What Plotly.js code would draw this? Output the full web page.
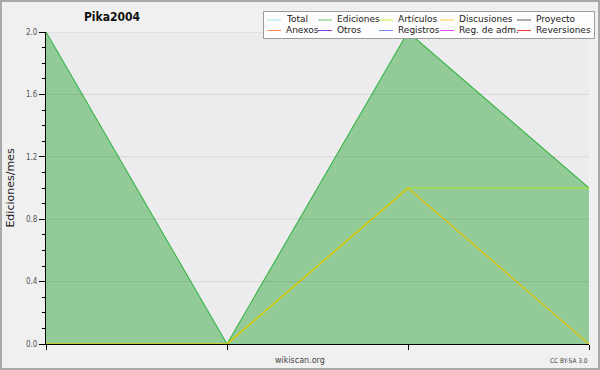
<!DOCTYPE html>
<html>
<head>
<meta charset="utf-8">
<script src="https://cdn.plot.ly/plotly-3.0.1.min.js"></script>
<style>html,body{margin:0;padding:0;background:#f0f0f0;}#chart{width:600px;height:370px;}</style>
</head>
<body>
<div id="chart"></div>
<script>
// ---- data ----
var months = [0, 1, 2, 3];
var total = [2, 0, 2, 1];
var ediciones = [2, 0, 2, 1];
var articulos = [0, 0, 1, 1];
var discusiones = [0, 0, 1, 0];
var proyecto = [0, 0, 0, 0];
var anexos = [0, 0, 0, 0];
var otros = [0, 0, 0, 0];
var registros = [0, 0, 0, 0];
var regAdm = [0, 0, 0, 0];
var reversiones = [0, 0, 0, 0];
var yTicks = [0, 0.4, 0.8, 1.2, 1.6, 2.0];

var legendNames = ['Total', 'Ediciones', 'Artículos', 'Discusiones', 'Proyecto',
                   'Anexos', 'Otros', 'Registros', 'Reg. de adm.', 'Reversiones'];
var legendColors = ['#a6e8ee', '#72c472', '#c4ee3c', '#ffcf3a', '#5c5c5c',
                    '#ff8a4a', '#8a3ee6', '#7c8cff', '#e04cf2', '#f63a3a'];

// ---- geometry helpers (layout only) ----
var W = 600, H = 370, ML = 46, MR = 11, MT = 32, MB = 26;
var PW = W - ML - MR, PH = H - MT - MB;
function px(x) { return (x - ML) / PW; }
function py(y) { return (H - MB - y) / PH; }

function line(name, y, color, width, extra) {
  var t = {x: months, y: y, name: name, type: 'scatter', mode: 'lines',
           line: {color: color, width: width}, showlegend: false, hoverinfo: 'skip'};
  if (extra) for (var k in extra) t[k] = extra[k];
  return t;
}

var traces = [
  line('Proyecto', proyecto, legendColors[4], 1),
  line('Anexos', anexos, legendColors[5], 1),
  line('Otros', otros, legendColors[6], 1),
  line('Registros', registros, legendColors[7], 1),
  line('Reg. de adm.', regAdm, legendColors[8], 1),
  line('Reversiones', reversiones, legendColors[9], 1),
  line('Total', total, legendColors[0], 1),
  line('Ediciones', ediciones, '#3cb644', 1.1, {fill: 'tozeroy', fillcolor: '#93cb98'}),
  line('Artículos', articulos, '#a6e81a', 1.2),
  line('Discusiones', discusiones, '#e8c400', 1.2)
];

var shapes = [];
// horizontal grid drawn above the area fill, as in the reference
for (var g = 1; g < yTicks.length; g++) {
  shapes.push({type: 'line', xref: 'paper', yref: 'y', x0: 0, x1: 1, y0: yTicks[g], y1: yTicks[g],
               line: {color: 'rgba(0,0,0,0.085)', width: 1}, layer: 'above'});
}
// outer frame and legend box
shapes.push({type: 'rect', xref: 'paper', yref: 'paper', x0: px(1), x1: px(599), y0: py(369), y1: py(1),
   line: {color: '#a9a9a9', width: 2}, fillcolor: 'rgba(0,0,0,0)', layer: 'above'});
shapes.push({type: 'rect', xref: 'paper', yref: 'paper', x0: px(263.5), x1: px(594.5), y0: py(38.5), y1: py(11.5),
   line: {color: '#9a9a9a', width: 1}, fillcolor: '#fdfdfd', layer: 'above'});

var annotations = [
  {text: 'wikiscan.org', xref: 'paper', yref: 'paper', x: px(300), y: py(360), xanchor: 'center', yanchor: 'middle',
   showarrow: false, font: {family: 'DejaVu Sans', size: 8, color: '#444'}},
  {text: 'CC BY-SA 3.0', xref: 'paper', yref: 'paper', x: px(590), y: py(361), xanchor: 'right', yanchor: 'middle',
   showarrow: false, font: {family: 'DejaVu Sans Condensed, DejaVu Sans', size: 6.5, color: '#444'}}
];
// legend entries built from the name/colour arrays
var colX = [267, 318, 379, 440, 517];
var rowY = [20, 30.5];
for (var i = 0; i < legendNames.length; i++) {
  var c = i % 5, r = Math.floor(i / 5);
  shapes.push({type: 'line', xref: 'paper', yref: 'paper', x0: px(colX[c]), x1: px(colX[c] + 14),
               y0: py(rowY[r]), y1: py(rowY[r]), line: {color: legendColors[i], width: 1}, layer: 'above'});
  annotations.push({text: legendNames[i], xref: 'paper', yref: 'paper', x: px(colX[c] + 17), y: py(rowY[r] - 0.5),
                    xanchor: 'left', yanchor: 'middle', showarrow: false,
                    font: {family: 'DejaVu Sans', size: 9, color: '#222'}});
}

var layout = {
  width: W, height: H,
  margin: {l: ML, r: MR, t: MT, b: MB, pad: 0, autoexpand: false},
  paper_bgcolor: '#f0f0f0',
  plot_bgcolor: '#ececee',
  showlegend: false,
  title: {text: 'Pika2004', x: 112 / W, xanchor: 'center', y: 1 - 17 / H, yanchor: 'middle',
          font: {family: 'DejaVu Sans Condensed, DejaVu Sans', size: 12, weight: 'bold', color: '#111'}},
  xaxis: {range: [0, 3], tickvals: months, showticklabels: false, ticks: 'outside', ticklen: 5,
          tickcolor: '#000', showline: true, linecolor: '#000', linewidth: 1, showgrid: false,
          zeroline: false, fixedrange: true},
  yaxis: {range: [0, 2], tickvals: yTicks, tickformat: '.1f', ticks: 'outside', ticklen: 6,
          tickcolor: '#000', showline: true, linecolor: '#000', linewidth: 1,
          showgrid: false, zeroline: false,
          minor: {dtick: 0.1, ticks: 'outside', ticklen: 3, tickcolor: '#000', showgrid: false},
          tickfont: {family: 'DejaVu Sans Condensed, DejaVu Sans', size: 8, color: '#555'},
          title: {text: 'Ediciones/mes', standoff: 9,
                  font: {family: 'DejaVu Sans', size: 11, color: '#222'}},
          fixedrange: true},
  shapes: shapes,
  annotations: annotations
};

Plotly.newPlot('chart', traces, layout, {displayModeBar: false, staticPlot: true});
</script>
</body>
</html>
